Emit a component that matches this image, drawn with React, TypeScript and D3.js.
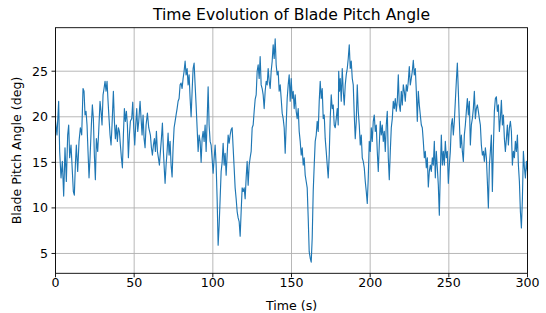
import React from "react";
import * as d3 from "d3";

const timeS: number[] = [
  0, 0.95, 2.01, 2.65, 3.5, 4.35, 5.2, 6.04, 6.89, 7.74, 8.38, 9.01, 9.86, 10.71, 11.34, 11.98, 12.62, 13.25, 14.1, 14.95,
  15.8, 16.65, 17.49, 18.13, 18.77, 19.4, 20.04, 20.67, 21.31, 21.95, 22.8, 23.43, 24.07, 24.7, 25.34, 25.98, 26.82, 27.46, 28.31, 28.94,
  29.58, 30.22, 30.85, 31.49, 32.13, 32.76, 33.4, 34.03, 34.67, 35.31, 35.94, 36.79, 37.43, 38.06, 38.7, 39.33, 39.97, 40.61, 41.24, 41.88,
  42.52, 43.15, 43.79, 44.42, 45.06, 45.7, 46.33, 46.97, 47.6, 48.45, 49.09, 49.73, 50.36, 51.0, 51.63, 52.27, 52.91, 53.75, 54.39, 55.03,
  55.66, 56.3, 56.93, 57.57, 58.42, 59.27,
  60.32, 60.96, 61.6, 62.23, 62.87, 63.5, 64.14, 64.78, 65.41, 66.05, 66.69, 67.32, 67.96, 68.59, 69.23, 69.65, 70.29, 70.93, 71.56, 72.2,
  72.83, 73.47, 74.11, 74.74, 75.38, 76.02, 76.65, 77.29, 77.92, 78.56, 79.2, 79.83, 80.47, 81.1, 81.74, 82.38, 83.01, 83.65, 84.29, 84.92,
  85.56, 86.19, 86.83, 87.47, 88.1, 88.74, 89.37, 90.01, 90.65, 91.28, 91.92, 92.56, 93.19, 93.83, 94.46, 95.1, 95.74, 96.37, 97.01, 97.64,
  98.28, 98.92, 99.55, 100.19, 100.83, 101.46, 102.1, 102.73, 103.37, 104.01, 104.64, 105.28, 105.91, 106.55, 107.19, 107.82, 108.46, 109.09, 109.73, 110.37,
  111.0, 111.64, 112.28, 112.91, 113.55, 114.18, 114.82, 115.46, 116.09, 116.73, 117.37, 118.0, 118.64,
  119.27, 119.91, 120.54, 121.18, 121.81, 122.45, 123.09, 123.72, 124.36, 125.0, 125.63, 126.27, 126.9, 127.54, 128.18, 128.81, 129.45, 130.08, 130.72, 131.36,
  131.99, 132.63, 133.26, 133.9, 134.54, 135.17, 135.81, 136.45, 137.08, 137.72, 138.35, 138.99, 139.63, 140.26, 140.9, 141.53, 142.17, 142.81, 143.44, 144.08,
  144.72, 145.35, 145.99, 146.62, 147.26, 147.9, 148.53, 149.17, 149.8, 150.44, 151.08, 151.71, 152.35, 152.98, 153.62, 154.26, 154.89, 155.53, 156.17, 156.8,
  157.44, 158.07, 158.71, 159.35, 159.98, 160.62, 161.25, 161.89, 162.53, 163.16, 163.8, 164.44, 165.07, 165.71, 166.34, 166.98, 167.62, 168.25, 168.89, 169.52,
  170.16, 170.8, 171.43, 172.07, 172.71, 173.34, 173.98, 174.61, 175.25, 175.89, 176.52, 177.16, 177.79, 178.43, 179.07, 179.7,
  180.0, 180.5, 180.98, 181.62, 182.25, 182.89, 183.53, 184.16, 184.8, 185.44, 186.07, 186.71, 187.34, 187.98, 188.62, 189.25, 189.89, 190.52, 191.16, 191.8,
  192.43, 193.07, 193.7, 194.34, 194.98, 195.61, 196.25, 196.89, 197.52, 198.16, 198.79, 199.43, 200.07, 200.7, 201.34, 201.97, 202.61, 203.25, 203.88, 204.52,
  205.15, 205.79, 206.43, 207.06, 207.7, 208.34, 208.97, 209.61, 210.24, 210.88, 211.52, 212.15, 212.79, 213.42, 214.06, 214.7, 215.33, 215.97, 216.61, 217.24,
  217.88, 218.51, 219.15, 219.79, 220.42, 221.06, 221.69, 222.33, 222.97, 223.6, 224.24, 224.88, 225.51, 226.15, 226.78, 227.42, 228.06, 228.69, 229.33, 229.96,
  230.6, 231.24, 231.87, 232.51, 233.14, 233.78, 234.42, 235.05, 235.69, 236.33, 236.96, 237.6, 238.23, 238.87, 239.51, 240.14,
  240.78, 241.41, 242.05, 242.68, 243.32, 243.96, 244.59, 245.23, 245.87, 246.5, 247.14, 247.77, 248.41, 249.05, 249.68, 250.32, 250.95, 251.59, 252.23, 252.86,
  253.5, 254.13, 254.77, 255.41, 256.04, 256.68, 257.32, 257.95, 258.59, 259.22, 259.86, 260.5, 261.13, 261.77, 262.4, 263.04, 263.68, 264.31, 264.95, 265.59,
  266.22, 266.86, 267.49, 268.13, 268.77, 269.4, 270.04, 270.67, 271.31, 271.95, 272.58, 273.22, 273.86, 274.49, 275.13, 275.76, 276.4, 277.04, 277.67, 278.31,
  278.94, 279.58, 280.22, 280.85, 281.49, 282.12, 282.76, 283.4, 284.03, 284.67, 285.31, 285.94, 286.58, 287.21, 287.85, 288.49, 289.12, 289.76, 290.39, 291.03,
  291.67, 292.3, 292.94, 293.58, 294.21, 294.85, 295.48, 296.12, 296.76, 297.39, 298.03, 298.66, 299.3, 300.0,
];

const pitchDeg: number[] = [
  19.5, 18, 21.7, 16.2, 13.3, 15.1, 11.3, 16.6, 12.9, 18, 19.1, 15.5, 16.9, 14, 11.8, 11.4, 14.7, 16.9, 14, 17.3,
  18.8, 18, 23.1, 22.8, 20.2, 20.6, 19.1, 16.2, 13.3, 15.5, 19.1, 21.3, 19.8, 15.8, 13.1, 17.6, 16.2, 18.4, 21.7, 20.6,
  19.1, 22.4, 23.1, 23.9, 22.8, 23.9, 21.7, 19.8, 18, 16.9, 19.1, 22.8, 19.5, 17.6, 19.1, 17.3, 18.8, 18.4, 16.9, 15.5,
  14.4, 18, 20.9, 19.5, 20.6, 19.1, 15.5, 18, 19.5, 19.8, 21.6, 18.8, 16.9, 19.1, 20.9, 18.4, 19.5, 21.7, 19.8, 18,
  20.2, 17.6, 16.6, 19.1, 20.4, 18.8,
  18, 16.6, 15.8, 16.9, 17.6, 16.2, 18.4, 16.2, 15.5, 14.7, 16.2, 17.6, 19.3, 16.2, 14, 12.7, 14.7, 16.2, 18.2, 15.8,
  17.3, 14.7, 13.4, 16.6, 18.8, 19.5, 20.2, 20.9, 21.7, 22, 23.5, 23.7, 23.1, 24.2, 25, 26.1, 24.6, 25.3, 23.5, 24.6,
  22, 20, 22.8, 25.3, 25.9, 23.5, 21.3, 18.8, 16.2, 18, 17.3, 15, 17.6, 18.4, 17.3, 19.1, 16.2, 19.5, 23.3, 19.1,
  17.3, 16.9, 15.4, 13.8, 15.4, 16.9, 14.7, 11, 5.9, 8.1, 11, 14, 15, 17.1, 14.7, 16, 13.6, 15.8, 18, 17.1,
  18, 18.6, 18.8, 16.6, 14.4, 12.2, 11, 9.6, 8.9, 8.5, 6.9, 9.6, 12.2,
  11.8, 12.2, 11, 13.3, 15.1, 12.5, 14.7, 15.5, 16.2, 18.8, 19.1, 20.6, 21.9, 22.4, 25, 25.7, 24.2, 26.6, 23.5, 23.1,
  22.4, 20.9, 22.8, 23.9, 23.5, 25.3, 23.9, 23.1, 25, 26.1, 27.9, 26.4, 28.55, 25.7, 24.6, 25, 22.8, 23.5, 22, 20.4,
  19.8, 18.8, 16, 19.1, 22, 23.5, 24.6, 21.7, 24.2, 22, 22.8, 20.9, 22.4, 20.6, 19.8, 20.9, 18.4, 17.3, 15.8, 16.6,
  14.7, 15.5, 13.6, 12.9, 12.2, 8.9, 5.2, 4.5, 4.05, 6.7, 11.8, 14.7, 17.3, 18, 19.5, 18.4, 21.7, 23.9, 22, 23.1,
  19.8, 20.2, 17.6, 16.2, 14.7, 13.3, 15.8, 19.8, 22.4, 20.9, 21.3, 19.1, 18.8, 19.8, 20.9, 19.1,
  25, 22.8, 24.2, 21.7, 25.3, 22.8, 21.3, 23.5, 24.6, 25.3, 26.4, 27.9, 25.3, 26.1, 24.2, 23.5, 20.2, 17.6, 19.5, 23.5,
  20.6, 19.1, 16.9, 18, 15.5, 15.1, 14.4, 12.9, 11.8, 10.5, 13.3, 17.3, 16.2, 18.8, 17.3, 19.5, 20.2, 18.4, 19.1, 16.2,
  14, 16.9, 19.5, 18, 19.1, 17.3, 18.4, 16.2, 19.1, 20.6, 15.5, 13.1, 16.2, 18.8, 19.8, 21.7, 20.9, 22, 20.6, 21.7,
  24.6, 21.3, 20.6, 22.8, 21.3, 23.5, 22.8, 21.7, 23.5, 22.8, 23.9, 25.5, 23.5, 24.2, 25, 26.2, 24.6, 25.3, 22.8, 19.5,
  22.8, 21.3, 20.2, 19.1, 18.8, 17.3, 15.5, 16.2, 14.4, 15.5, 12.3, 14, 14.7, 14, 15.5, 14.7,
  17.3, 13.3, 16.2, 14.4, 12.5, 9.2, 14, 18, 14.7, 16.2, 14.7, 17.3, 15.5, 16.2, 12.7, 14.7, 16.2, 19.1, 19.8, 18,
  19.5, 21.7, 23.9, 25.9, 22.8, 19.5, 16.6, 18, 16.2, 15.1, 18, 19.1, 20.6, 22, 20.2, 21.7, 16.9, 19.1, 19.8, 20.9,
  22.8, 19.8, 20.9, 21.3, 20.6, 19.8, 19.1, 16.9, 15.8, 16.2, 15.1, 16.6, 15.5, 12.9, 10, 14.7, 16.2, 18, 11.8, 16.6,
  20.6, 22, 22.2, 20.6, 21.3, 18.4, 19.8, 21.8, 19.1, 20.2, 17.6, 16.2, 17.6, 19.1, 16.9, 18.8, 19.5, 18.4, 14.7, 16.2,
  15.5, 17.3, 16.2, 18, 14.7, 12.9, 9.6, 7.8, 11, 16.2, 14.4, 13.3, 15.1, 14,
];

const xTicks = [0, 50, 100, 150, 200, 250, 300];
const yTicks = [5, 10, 15, 20, 25];
const titleText = "Time Evolution of Blade Pitch Angle";
const xLabel = "Time (s)";
const yLabel = "Blade Pitch Angle (deg)";

const W = 546;
const H = 313;
const M = { left: 55.5, right: 527.5, top: 27.7, bottom: 273.3 };
const FONT = "DejaVu Sans, sans-serif";
const TICK_FS = 12.6;
const TITLE_FS = 15.6;

export default function App() {
  const n = Math.min(timeS.length, pitchDeg.length);
  const pts: [number, number][] = [];
  for (let i = 0; i < n; i++) pts.push([timeS[i], pitchDeg[i]]);

  const yMin = d3.min(pitchDeg) as number;
  const yMax = d3.max(pitchDeg) as number;
  const pad = (yMax - yMin) * 0.05;

  const x = d3.scaleLinear().domain([0, 300]).range([M.left, M.right]);
  const y = d3.scaleLinear().domain([yMin - pad, yMax + pad]).range([M.bottom, M.top]);

  const line = d3
    .line<[number, number]>()
    .x((d) => x(d[0]))
    .y((d) => y(d[1]));

  const cx = (M.left + M.right) / 2;
  const cy = (M.top + M.bottom) / 2;

  return (
    <svg
      width={W}
      height={H}
      style={{ position: "absolute", left: 0, top: 0, background: "#fff" }}
      fontFamily={FONT}
    >
      <rect x={0} y={0} width={W} height={H} fill="#fff" />
      <defs>
        <clipPath id="plotclip">
          <rect x={M.left} y={M.top} width={M.right - M.left} height={M.bottom - M.top} />
        </clipPath>
      </defs>
      {xTicks.map((t) => (
        <line key={"gx" + t} x1={x(t)} x2={x(t)} y1={M.top} y2={M.bottom} stroke="#b0b0b0" strokeWidth={0.9} />
      ))}
      {yTicks.map((t) => (
        <line key={"gy" + t} x1={M.left} x2={M.right} y1={y(t)} y2={y(t)} stroke="#b0b0b0" strokeWidth={0.9} />
      ))}
      <path
        d={line(pts) || ""}
        fill="none"
        stroke="#1f77b4"
        strokeWidth={1.15}
        strokeLinejoin="round"
        clipPath="url(#plotclip)"
      />
      <rect
        x={M.left}
        y={M.top}
        width={M.right - M.left}
        height={M.bottom - M.top}
        fill="none"
        stroke="#000"
        strokeWidth={0.9}
      />
      {xTicks.map((t) => (
        <g key={"xt" + t}>
          <line x1={x(t)} x2={x(t)} y1={M.bottom} y2={M.bottom + 4} stroke="#000" strokeWidth={0.9} />
          <text x={x(t)} y={M.bottom + 13.6} textAnchor="middle" fontSize={TICK_FS} fill="#000">
            {t}
          </text>
        </g>
      ))}
      {yTicks.map((t) => (
        <g key={"yt" + t}>
          <line x1={M.left - 4} x2={M.left} y1={y(t)} y2={y(t)} stroke="#000" strokeWidth={0.9} />
          <text x={M.left - 7.5} y={y(t) + 4.5} textAnchor="end" fontSize={TICK_FS} fill="#000">
            {t}
          </text>
        </g>
      ))}
      <text x={cx} y={20.3} textAnchor="middle" fontSize={TITLE_FS} fill="#000">
        {titleText}
      </text>
      <text x={cx} y={309.5} textAnchor="middle" fontSize={TICK_FS} fill="#000">
        {xLabel}
      </text>
      <text
        transform={`translate(21, ${cy}) rotate(-90)`}
        textAnchor="middle"
        fontSize={TICK_FS}
        fill="#000"
      >
        {yLabel}
      </text>
    </svg>
  );
}
